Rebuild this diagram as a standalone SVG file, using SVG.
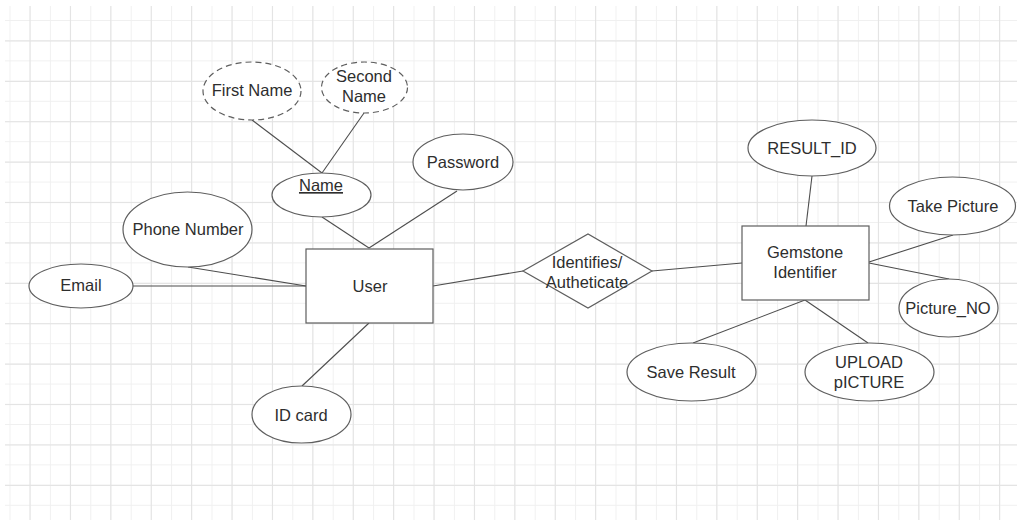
<svg xmlns="http://www.w3.org/2000/svg" width="1017" height="520" viewBox="0 0 1017 520">
<defs>
<pattern id="minor" patternUnits="userSpaceOnUse" x="9.5" y="20" width="20.2" height="20.2">
<path d="M0.5 0V20.2M0 0.5H20.2" fill="none" stroke="#f0f0f0" stroke-width="1"/>
</pattern>
<pattern id="major" patternUnits="userSpaceOnUse" x="29.5" y="40.5" width="40.4" height="40.4">
<path d="M0.5 0V40.4M0 0.5H40.4" fill="none" stroke="#e2e2e2" stroke-width="1"/>
</pattern>
</defs>
<style>
.shape{fill:#ffffff;stroke:#5e5e5e;stroke-width:1.2}
.dash{stroke-dasharray:6 4}
.edge{fill:none;stroke:#4d4d4d;stroke-width:1.1}
text{font-family:"Liberation Sans",Arial,sans-serif;font-size:16.5px;fill:#2e2e2e;text-anchor:middle}
</style>
<rect x="0" y="0" width="1017" height="520" fill="#ffffff"/>
<rect x="5" y="6" width="1012" height="514" fill="url(#minor)"/>
<rect x="5" y="6" width="1012" height="514" fill="url(#major)"/>
<g id="connectors">
<line class="edge" x1="252" y1="120" x2="322" y2="173"/>
<line class="edge" x1="364" y1="113" x2="322" y2="173"/>
<line class="edge" x1="322" y1="217" x2="369" y2="248"/>
<line class="edge" x1="457" y1="191" x2="369" y2="248"/>
<line class="edge" x1="188" y1="267" x2="306" y2="286"/>
<line class="edge" x1="133" y1="286" x2="306" y2="286"/>
<line class="edge" x1="369" y1="323" x2="302" y2="386"/>
<line class="edge" x1="433" y1="286" x2="523" y2="271"/>
<line class="edge" x1="652" y1="271" x2="742" y2="263"/>
<line class="edge" x1="812" y1="176" x2="806" y2="226"/>
<line class="edge" x1="869" y1="262" x2="953" y2="235"/>
<line class="edge" x1="869" y1="263" x2="949" y2="279"/>
<line class="edge" x1="805" y1="300" x2="693" y2="343"/>
<line class="edge" x1="805" y1="300" x2="868" y2="343"/>
</g>
<g id="first-name"><ellipse class="shape dash" cx="252" cy="91" rx="49" ry="29"/><text x="252" y="96">First Name</text></g>
<g id="second-name"><ellipse class="shape dash" cx="364.5" cy="87.5" rx="43" ry="25.5"/><text x="364" y="82">Second</text><text x="364" y="102">Name</text></g>
<g id="name"><ellipse class="shape" cx="321.5" cy="195" rx="49.5" ry="22"/><text x="321" y="191" text-decoration="underline">Name</text></g>
<g id="password"><ellipse class="shape" cx="463" cy="162" rx="50" ry="28"/><text x="463" y="167.5">Password</text></g>
<g id="phone-number"><ellipse class="shape" cx="187.5" cy="229.5" rx="64.5" ry="37.5"/><text x="188" y="234.5">Phone Number</text></g>
<g id="email"><ellipse class="shape" cx="81" cy="286" rx="52" ry="22"/><text x="81" y="291">Email</text></g>
<g id="user"><rect class="shape" x="306" y="249" width="127" height="74"/><text x="370" y="291.5">User</text></g>
<g id="id-card"><ellipse class="shape" cx="301.5" cy="414.5" rx="49.5" ry="28.5"/><text x="301" y="420.5">ID card</text></g>
<g id="identifies"><polygon class="shape" points="523,271 588,234 652,271 588,308"/><text x="587" y="267.5">Identifies/</text><text x="587" y="287.5">Autheticate</text></g>
<g id="gemstone-identifier"><rect class="shape" x="742" y="226" width="127" height="74"/><text x="805" y="257.5">Gemstone</text><text x="805" y="277.5">Identifier</text></g>
<g id="result-id"><ellipse class="shape" cx="812" cy="148" rx="64" ry="28"/><text x="812" y="153.5">RESULT_ID</text></g>
<g id="take-picture"><ellipse class="shape" cx="952.5" cy="206" rx="63" ry="29"/><text x="953" y="211.5">Take Picture</text></g>
<g id="picture-no"><ellipse class="shape" cx="948.5" cy="308" rx="49.5" ry="29"/><text x="948" y="313.5">Picture_NO</text></g>
<g id="save-result"><ellipse class="shape" cx="691.5" cy="372" rx="64.5" ry="29"/><text x="691" y="377.5">Save Result</text></g>
<g id="upload-picture"><ellipse class="shape" cx="869.5" cy="372" rx="64.5" ry="29"/><text x="869" y="367.5">UPLOAD</text><text x="869" y="387.5">pICTURE</text></g>
</svg>
